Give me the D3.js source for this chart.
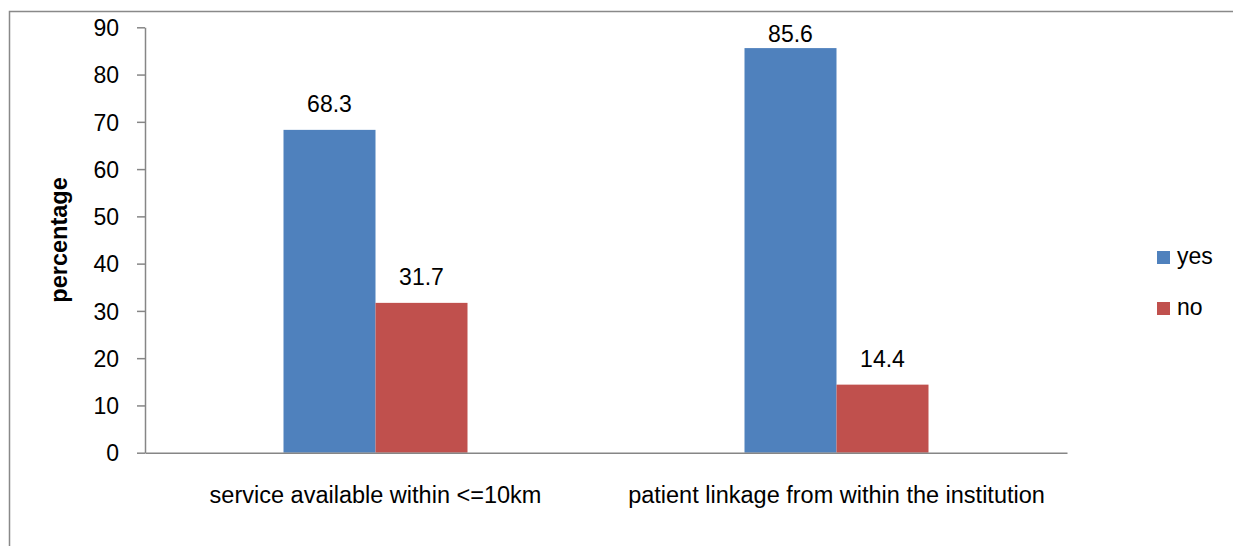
<!DOCTYPE html>
<html><head><meta charset="utf-8">
<script src="https://cdn.jsdelivr.net/npm/d3@7"></script>
<style>body{margin:0;background:#fff}svg{display:block}text{font-family:"Liberation Sans",Arial,sans-serif}</style>
</head><body><svg id="c" width="1233" height="546"></svg>
<script>
const categories = ["service available within <=10km", "patient linkage from within the institution"];
const seriesNames = ["yes", "no"];
const yesValues = [68.3, 85.6];
const noValues = [31.7, 14.4];
const yTicks = [0, 10, 20, 30, 40, 50, 60, 70, 80, 90];
const colors = ["#4F81BD", "#C0504D"];

const svg = d3.select("#c");
svg.append("rect").attr("x", 9.5).attr("y", 11.5).attr("width", 1300).attr("height", 600)
  .attr("fill", "none").attr("stroke", "#898989").attr("stroke-width", 1.5);

const plotLeft = 145, plotRight = 1067, plotTop = 27.3, plotBottom = 452.7;
const x0 = d3.scaleBand().domain(categories).range([plotLeft, plotRight]).paddingInner(0).paddingOuter(0);
const x1 = d3.scaleBand().domain(seriesNames).range([0, 184]);
const y = d3.scaleLinear().domain([0, 90]).range([plotBottom, plotTop]);

const data = categories.map((c, i) => ({cat: c, vals: [yesValues[i], noValues[i]]}));

// y axis
const yAxis = d3.axisLeft(y).tickValues(yTicks).tickSize(8).tickPadding(18).tickSizeOuter(0);
const yg = svg.append("g").attr("transform", `translate(${plotLeft},0)`).call(yAxis);
yg.select(".domain").attr("stroke", "#868686").attr("stroke-width", 1.5);
yg.selectAll(".tick line").attr("stroke", "#868686").attr("stroke-width", 1.5);
yg.selectAll(".tick text").attr("fill", "#000").style("font-size", "23px").attr("dy", "0.36em");

// bars
const groups = svg.append("g").selectAll("g").data(data).join("g")
  .attr("transform", d => `translate(${x0(d.cat) + x0.bandwidth()/2 - 92},0)`);
groups.selectAll("rect").data(d => d.vals.map((v, j) => ({s: seriesNames[j], v, j}))).join("rect")
  .attr("x", d => x1(d.s)).attr("width", x1.bandwidth())
  .attr("y", d => y(d.v)).attr("height", d => plotBottom - y(d.v))
  .attr("fill", d => colors[d.j]);
groups.selectAll("text").data(d => d.vals.map((v, j) => ({s: seriesNames[j], v, j}))).join("text")
  .attr("x", d => x1(d.s) + x1.bandwidth()/2).attr("y", d => Math.max(y(d.v) - 18, 41.5))
  .attr("text-anchor", "middle").style("font-size", "23px").attr("fill", "#000")
  .text(d => d.v.toFixed(1));

// x axis
const xAxis = d3.axisBottom(x0).tickSize(0).tickPadding(34).tickSizeOuter(0);
const xg = svg.append("g").attr("transform", `translate(0,${plotBottom})`).call(xAxis);
xg.select(".domain").attr("stroke", "#868686").attr("stroke-width", 1.5);
xg.selectAll(".tick text").attr("fill", "#000").style("font-size", "23.5px");

// y title
svg.append("text").attr("transform", `translate(67,240) rotate(-90)`)
  .attr("text-anchor", "middle").style("font-size", "23.5px").style("font-weight", "bold")
  .text("percentage");

// legend
const lg = svg.append("g").selectAll("g").data(seriesNames).join("g")
  .attr("transform", (d, i) => `translate(1157,${251 + i * 51})`);
lg.append("rect").attr("width", 13).attr("height", 13).attr("fill", (d, i) => colors[i]);
lg.append("text").attr("x", 20).attr("y", 13).style("font-size", "23px").text(d => d);
</script></body></html>
